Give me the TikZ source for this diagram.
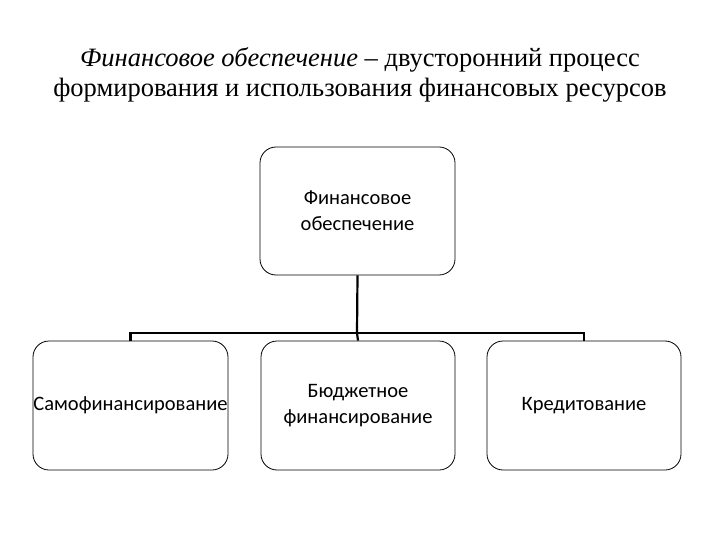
\documentclass[tikz,border=0pt]{standalone}
\usepackage{fontspec}
\setmainfont{Liberation Serif}
\newfontfamily\boxfont{Carlito}
\begin{document}
\begin{tikzpicture}[x=1pt,y=-1pt,
  bx/.style={draw=black,line width=0.8pt,rounded corners=16pt,align=center,inner sep=0pt,font=\boxfont\fontsize{20.5}{26}\selectfont},
  conn/.style={line width=2.2pt}]
\useasboundingbox (0,0) rectangle (720,540);
\node[font=\fontsize{26.5}{32}\selectfont] (t1) at (360,60) {\textit{Финансовое обеспечение} – двусторонний процесс};
\node[font=\fontsize{26.5}{32}\selectfont] (t2) at (360,90) {формирования и использования финансовых ресурсов};
\node[bx,minimum width=195pt,minimum height=128pt] (top) at (357.5,211) {Финансовое\\обеспечение};
\node[bx,minimum width=195pt,minimum height=129pt] (b1) at (130.5,405.5) {Самофинансирование};
\node[bx,minimum width=194pt,minimum height=129pt] (b2) at (358,405.5) {Бюджетное\\финансирование};
\node[bx,minimum width=194pt,minimum height=129pt] (b3) at (584,405.5) {Кредитование};
\coordinate (j) at (357,333);
\draw[conn] (top.south) -- (j);
\draw[conn,line join=miter] (b1.north) -- ++(0,-8) -| (b3.north);
\draw[conn] (b2.north) -- (j);
\end{tikzpicture}
\end{document}
